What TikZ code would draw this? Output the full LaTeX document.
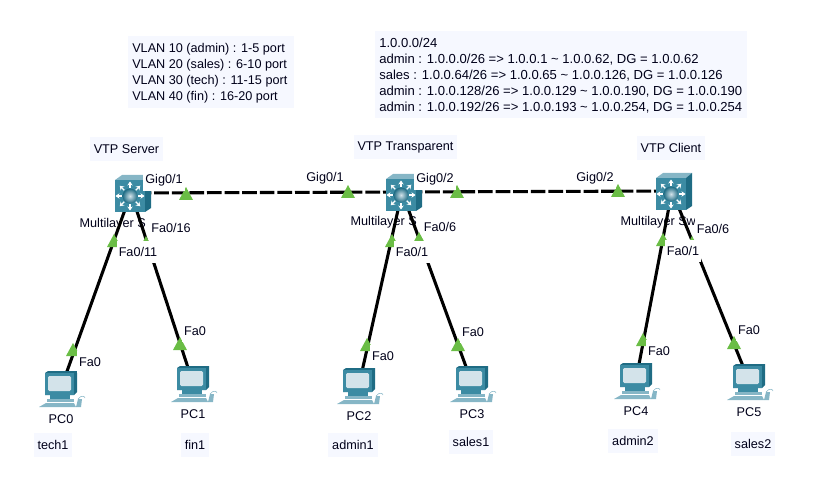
\documentclass[tikz,border=0pt]{standalone}
\usepackage{fontspec}
\setmainfont{Liberation Sans}
\usepackage{xcolor}
\usepackage{tikz}
\usetikzlibrary{arrows.meta}
\definecolor{boxbg}{HTML}{F6F8FF}
\definecolor{portgreen}{HTML}{6ABD45}
\definecolor{icfront}{HTML}{3C8BA3}
\definecolor{ictop}{HTML}{86B6C6}
\definecolor{icside}{HTML}{1F6C84}
\definecolor{icscreen}{HTML}{D3E3EA}

\begin{document}
\begin{tikzpicture}[
    x=0.75pt, y=-0.75pt,
    txt/.style={font=\fontsize{9.5}{12}\selectfont, text=black!90!blue},
    note/.style={txt, fill=boxbg, align=left, inner sep=0pt, text depth=0pt},
    tag/.style={txt, fill=boxbg, inner xsep=3pt, minimum height=18pt},
    port/.style={txt, fill=white, inner xsep=1.5pt, minimum height=17pt},
    dev/.style={txt, inner sep=1pt},
    swn/.style={minimum size=8pt, inner sep=0pt},
    pcn/.style={minimum size=8pt, inner sep=0pt},
    cable/.style={line width=2.3pt, black},
    trunk/.style={cable, dash pattern=on 11pt off 2.2pt},
    mlsw/.pic={
      \fill[ictop] (-16,-13) -- (-9,-18) -- (20,-18) -- (14,-13) -- cycle;
      \fill[icside] (14,-13) -- (20,-18) -- (20,15) -- (14,19) -- cycle;
      \fill[icfront] (-16,-13) rectangle (14,19);
      \foreach \a in {0,45,...,315}
        \draw[white, line width=1pt, -{Stealth[length=3pt,width=4pt]}]
          ([shift={(-1,3)}]\a:8) -- ([shift={(-1,3)}]\a:14.5);
      \shade[inner color=icscreen, outer color=icside] (-1,3) circle (7.5);
    },
    pcbox/.pic={
      \fill[icside] (-16,-15) -- (-13,-17) -- (16,-17) -- (16,4) -- (13,7) -- (-16,7) -- cycle;
      \fill[icfront] (-16,-15) rectangle (13,7);
      \fill[icscreen, rounded corners=1pt] (-13,-12) rectangle (10,3);
      \fill[icfront] (-11,7) rectangle (9,11);
      \fill[ictop] (-14,11) rectangle (13,14);
      \fill[ictop] (-15,15) -- (13,15) -- (15,19) -- (-22,19) -- cycle;
      \fill[ictop] (17,11) -- (21,11) -- (20,19) -- (15,19) -- cycle;
      \draw[ictop, line width=0.4pt] (17,11) .. controls (21,6) and (24,9) .. (24,10);
    }
  ]
  \useasboundingbox (0,0) rectangle (826,478);

  \fill[boxbg] (128,36) rectangle (294,108);
  \node[note, anchor=north west] (vlan) at (132,43)
    {VLAN 10 (admin) : 1-5 port\\VLAN 20 (sales) : 6-10 port\\VLAN 30 (tech) : 11-15 port\\VLAN 40 (fin) : 16-20 port};
  \fill[boxbg] (375,31) rectangle (747,118);
  \node[note, anchor=north west, font=\fontsize{9.8}{12}\selectfont] (net) at (379,37.5)
    {1.0.0.0/24\\admin : 1.0.0.0/26 => 1.0.0.1 \textasciitilde{} 1.0.0.62, DG = 1.0.0.62\\sales : 1.0.0.64/26 => 1.0.0.65 \textasciitilde{} 1.0.0.126, DG = 1.0.0.126\\admin : 1.0.0.128/26 => 1.0.0.129 \textasciitilde{} 1.0.0.190, DG = 1.0.0.190\\admin : 1.0.0.192/26 => 1.0.0.193 \textasciitilde{} 1.0.0.254, DG = 1.0.0.254};

  \node[tag] (srv) at (126.5,149) {VTP Server};
  \node[tag] (trn) at (405.5,147.5) {VTP Transparent};
  \node[tag] (cli) at (671,148) {VTP Client};

  \node[dev, anchor=west] (ml0) at (78,224) {Multilayer S};
  \node[dev, anchor=west] (ml1) at (349,222) {Multilayer S};
  \node[dev, anchor=west] (ml2) at (619,222) {Multilayer Sw};

  \node[swn] (sw0) at (131,193) {};
  \node[swn] (sw1) at (402,192) {};
  \node[swn] (sw2) at (672,191) {};
  \node[pcn] (pc0) at (61,388) {};
  \node[pcn] (pc1) at (193,383) {};
  \node[pcn] (pc2) at (359,385) {};
  \node[pcn] (pc3) at (472,383) {};
  \node[pcn] (pc4) at (636,380) {};
  \node[pcn] (pc5) at (749,381) {};

  \draw[trunk] (sw0) -- (sw1);
  \draw[trunk] (sw1) -- (sw2);
  \draw[cable] (sw0) -- (pc0);
  \draw[cable] (sw0) -- (pc1);
  \draw[cable] (sw1) -- (pc2);
  \draw[cable] (sw1) -- (pc3);
  \draw[cable] (sw2) -- (pc4);
  \draw[cable] (sw2) -- (pc5);

  \foreach \x/\y in {186/200,348/198,457/198,618/197,114/247,146/249,392/247,419/245,663/246,692/249,73/356,180/350,367/351,458/351,643/346,734/349}
    \fill[portgreen] ({\x-7},\y) -- ({\x+7},\y) -- (\x,{\y-13}) -- cycle;

  \pic at (sw0) {mlsw};
  \pic at (sw1) {mlsw};
  \pic at (sw2) {mlsw};
  \pic at (pc0) {pcbox};
  \pic at (pc1) {pcbox};
  \pic at (pc2) {pcbox};
  \pic at (pc3) {pcbox};
  \pic at (pc4) {pcbox};
  \pic at (pc5) {pcbox};

  \node[port] (p0a) at (164,180) {Gig0/1};
  \node[port] (p0b) at (171,228) {Fa0/16};
  \node[port] (p0c) at (138,252) {Fa0/11};
  \node[port] (p1a) at (325,178) {Gig0/1};
  \node[port] (p1b) at (435,179) {Gig0/2};
  \node[port] (p1c) at (440,227) {Fa0/6};
  \node[port] (p1d) at (412,252) {Fa0/1};
  \node[port] (p2a) at (595,178) {Gig0/2};
  \node[port] (p2b) at (713,229) {Fa0/6};
  \node[port] (p2c) at (683,251) {Fa0/1};
  \node[port] (p3a) at (90,362) {Fa0};
  \node[port] (p3b) at (195,331) {Fa0};
  \node[port] (p3c) at (383,356) {Fa0};
  \node[port] (p3d) at (473,332) {Fa0};
  \node[port] (p3e) at (659,351) {Fa0};
  \node[port] (p3f) at (749,330) {Fa0};

  \node[dev] (n0) at (61,419) {PC0};
  \node[dev] (n1) at (193,414) {PC1};
  \node[dev] (n2) at (359,416) {PC2};
  \node[dev] (n3) at (472,414) {PC3};
  \node[dev] (n4) at (636,411) {PC4};
  \node[dev] (n5) at (749,412) {PC5};

  \node[tag] (u0) at (53,445) {tech1};
  \node[tag] (u1) at (195,445) {fin1};
  \node[tag] (u2) at (353,445) {admin1};
  \node[tag] (u3) at (471,442) {sales1};
  \node[tag] (u4) at (633,441) {admin2};
  \node[tag] (u5) at (753,444) {sales2};
\end{tikzpicture}
\end{document}
